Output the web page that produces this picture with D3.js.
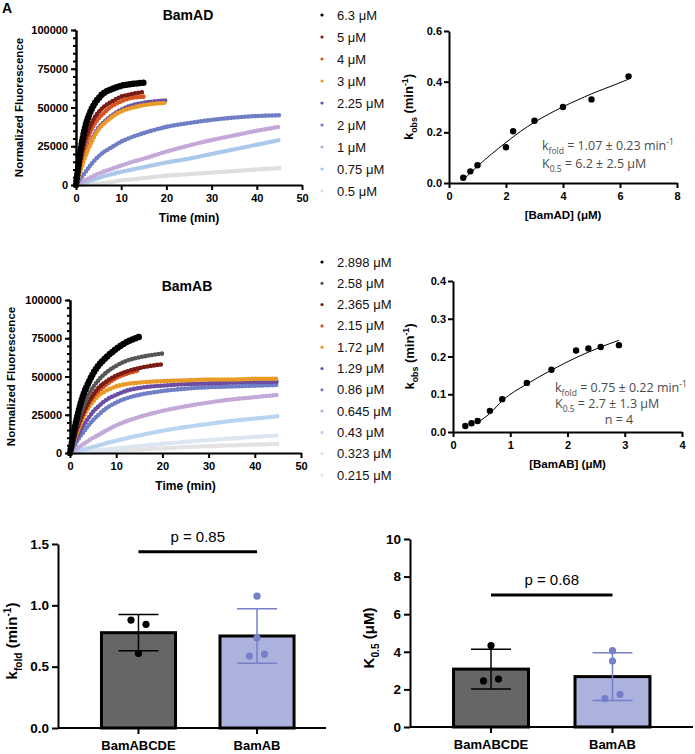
<!DOCTYPE html>
<html>
<head>
<meta charset="utf-8">
<script src="https://cdn.jsdelivr.net/npm/d3@7"></script>
<style>
  body { margin: 0; background: #fff; }
  text { font-family: "Liberation Sans", Arial, Helvetica, sans-serif; }
  .axis path, .axis line { stroke: #000; stroke-width: 2; }
  .axis text { font-weight: bold; fill: #000; }
</style>
</head>
<body>
<script>
// ---- kinetic traces: values read at these times (min) ----
var tGrid = [0, 1, 2, 3, 4, 5, 6, 8, 10, 12, 15, 20, 25, 30, 35, 40, 45];

// BamAD traces (normalized fluorescence)
var adLabels = ["6.3 μM", "5 μM", "4 μM", "3 μM", "2.25 μM", "2 μM", "1 μM", "0.75 μM", "0.5 μM"];
var ad63  = [0, 22000, 37000, 46000, 52000, 56000, 59000, 62000, 64000, 65000, 66000];
var ad5   = [0, 17000, 29000, 37000, 43000, 47000, 50000, 54000, 57000, 58500, 60000];
var ad4   = [0, 14000, 25000, 33000, 39000, 43000, 46000, 51000, 54000, 56000, 57000];
var ad3   = [0, 9000, 18000, 25000, 31000, 36000, 39000, 44000, 47500, 49500, 51500, 53000];
var ad225 = [0, 10000, 19000, 26000, 32000, 37000, 40000, 45000, 48500, 51000, 53000, 54500];
var ad2   = [0, 4000, 8000, 12000, 15500, 18500, 21000, 24500, 28000, 30500, 33500, 37500, 40000, 42000, 43500, 44500, 45000];
var ad1   = [0, 1500, 3000, 4500, 6000, 7300, 8500, 10500, 12500, 14500, 17000, 21500, 25500, 29000, 32000, 35000, 37500];
var ad075 = [0, 700, 1500, 2500, 3500, 4500, 5500, 7000, 8500, 9700, 11500, 14500, 17000, 20000, 23000, 26000, 29000];
var ad05  = [0, 100, 300, 500, 700, 900, 1100, 2000, 3000, 3500, 4500, 6000, 7000, 8000, 9000, 10000, 11000];

// BamAB traces
var abLabels = ["2.898 μM", "2.58 μM", "2.365 μM", "2.15 μM", "1.72 μM", "1.29 μM", "0.86 μM", "0.645 μM", "0.43 μM", "0.323 μM", "0.215 μM"];
var ab2898 = [0, 16000, 29000, 39000, 46000, 52000, 56500, 63000, 68000, 72000, 76000];
var ab258  = [0, 12000, 23000, 31000, 38000, 43000, 47000, 53000, 57000, 60000, 62500, 65000];
var ab2365 = [0, 11000, 20000, 27000, 33000, 38000, 42000, 47000, 50500, 53000, 55500, 58000];
var ab215  = [0, 10000, 19000, 26000, 32000, 36500, 40000, 45000, 49000, 51500, 54000];
var ab172  = [0, 9000, 17000, 24000, 29500, 33500, 37000, 41000, 43500, 45000, 46000, 47000, 47500, 48000, 48000, 48500, 48500];
var ab129  = [0, 7000, 13000, 18500, 23000, 27000, 30000, 35000, 38000, 40500, 42500, 44000, 45000, 45500, 46000, 46500, 46500];
var ab086  = [0, 5000, 10000, 14000, 18000, 21500, 24500, 29500, 33000, 35500, 38000, 40500, 42000, 43000, 43500, 44000, 44500];
var ab0645 = [0, 2000, 4000, 6000, 8000, 10000, 11500, 15000, 18000, 20500, 23500, 27500, 30500, 33000, 35000, 36500, 38000];
var ab043  = [0, 800, 1600, 2400, 3200, 4000, 4800, 6500, 8000, 9500, 11500, 14500, 17000, 19000, 21000, 22500, 24000];
var ab0323 = [0, 300, 600, 900, 1200, 1500, 1800, 2400, 3000, 3600, 4500, 6000, 7300, 8500, 9500, 10500, 11500];
var ab0215 = [0, 150, 300, 450, 600, 750, 900, 1200, 1500, 1800, 2300, 3000, 3800, 4500, 5000, 5500, 6000];

// ---- kobs vs concentration ----
var adConc  = [0.5, 0.75, 1, 2, 2.25, 3, 4, 5, 6.3];
var adKobs  = [0.021, 0.046, 0.070, 0.141, 0.204, 0.246, 0.300, 0.330, 0.421];
var adFitX  = [0.57, 1, 1.5, 2, 2.5, 3, 3.5, 4, 4.5, 5, 5.5, 6, 6.3];
var adFitY  = [0.02, 0.066, 0.115, 0.160, 0.203, 0.240, 0.272, 0.301, 0.327, 0.352, 0.374, 0.396, 0.410];

var abConc  = [0.215, 0.323, 0.43, 0.645, 0.86, 1.29, 1.72, 2.15, 2.365, 2.58, 2.898];
var abKobs  = [0.016, 0.023, 0.029, 0.056, 0.087, 0.130, 0.165, 0.216, 0.221, 0.225, 0.230];
var abFitX  = [0.43, 0.65, 0.86, 1.29, 1.72, 2.15, 2.58, 2.9];
var abFitY  = [0.025, 0.05, 0.083, 0.127, 0.164, 0.197, 0.225, 0.243];

// ---- bar summaries ----
var groups     = ["BamABCDE", "BamAB"];
var kfoldMean  = [0.777, 0.75];
var kfoldSD    = [0.148, 0.222];
var kfoldPtsABCDE = [0.88, 0.845, 0.608];
var kfoldPtsAB    = [1.075, 0.735, 0.586, 0.602];
var k05Mean    = [3.08, 2.68];
var k05SD      = [1.06, 1.27];
var k05PtsABCDE = [2.45, 2.55, 4.33];
var k05PtsAB    = [4.06, 3.51, 1.51, 1.74];

// colours
var adColors = ["#000000", "#7a1c14", "#d6531f", "#ea9a26", "#6b4ea3", "#6f7fc6", "#c4a8d8", "#a9c8ec", "#dedede"];
var abColors = ["#000000", "#565656", "#7a1c14", "#d6531f", "#ea9a26", "#6b4ea3", "#6f7fc6", "#c4a8d8", "#b9d4f0", "#dde5f0", "#e3e3e3"];
var barFill  = ["#666666", "#aab2dd"];
var ptColor  = ["#000000", "#7480c8"];

var svg = d3.select("body").append("svg").attr("width", 695).attr("height", 754);

// text with sub/superscripts
function rich(t, parts, size) {
  var shift = 0;
  parts.forEach(function(p) {
    var target = p[1] === "sub" ? size * 0.32 : p[1] === "sup" ? -size * 0.42 : 0;
    t.append("tspan").attr("dy", target - shift).attr("font-size", p[1] ? size * 0.68 : size).text(p[0]);
    shift = target;
  });
}

function styleAxis(g, size) {
  g.attr("class", "axis").attr("font-size", size).attr("font-family", null);
}

// panel letter
svg.append("text").attr("x", 2).attr("y", 13).attr("font-size", 14).attr("font-weight", "bold").text("A");

// ---------- kinetic panel ----------
function kinetic(cfg) {
  var x = d3.scaleLinear().domain([0, 50]).range(cfg.xr);
  var y = d3.scaleLinear().domain([0, 100000]).range(cfg.yr);
  var g = svg.append("g");
  var line = d3.line().x(function(d) { return x(d[0]); }).y(function(d) { return y(d[1]); }).curve(d3.curveMonotoneX);

  // draw lowest concentration first; thin core plus dotted band for a scatter look
  for (var i = cfg.series.length - 1; i >= 0; i--) {
    var vals = cfg.series[i];
    var pts = vals.map(function(v, j) { return [tGrid[j], v]; });
    g.append("path").datum(pts)
      .attr("fill", "none").attr("stroke", cfg.colors[i])
      .attr("stroke-width", i === 0 ? 4.5 : 2.6)
      .attr("d", line);
    g.append("path").datum(pts)
      .attr("fill", "none").attr("stroke", cfg.colors[i])
      .attr("stroke-width", i === 0 ? 6.5 : 4.6).attr("stroke-linecap", "round")
      .attr("stroke-dasharray", "0 3.4")
      .attr("d", line);
  }

  var ya = g.append("g").attr("transform", "translate(" + cfg.xr[0] + ",0)")
    .call(d3.axisLeft(y).tickValues([0, 25000, 50000, 75000, 100000]).tickFormat(d3.format("d")).tickSize(5).tickSizeOuter(0).tickPadding(3));
  styleAxis(ya, 11);
  var ym = g.append("g").attr("transform", "translate(" + cfg.xr[0] + ",0)")
    .call(d3.axisLeft(y).tickValues(d3.range(0, 100001, 5000)).tickFormat("").tickSize(3).tickSizeOuter(0));
  ym.attr("class", "axis");
  var xa = g.append("g").attr("transform", "translate(0," + cfg.yr[0] + ")")
    .call(d3.axisBottom(x).tickValues([0, 10, 20, 30, 40, 50]).tickSize(5).tickSizeOuter(0).tickPadding(4));
  styleAxis(xa, 11);

  g.append("text").attr("x", (cfg.xr[0] + cfg.xr[1]) / 2).attr("y", cfg.yr[0] + 37)
    .attr("text-anchor", "middle").attr("font-size", 12).attr("font-weight", "bold").text("Time (min)");
  g.append("text").attr("transform", "translate(" + cfg.ylabX + "," + ((cfg.yr[0] + cfg.yr[1]) / 2) + ") rotate(-90)")
    .attr("text-anchor", "middle").attr("font-size", 11.5).attr("font-weight", "bold").text("Normalized Fluorescence");
  g.append("text").attr("x", cfg.titleX).attr("y", cfg.titleY)
    .attr("text-anchor", "middle").attr("font-size", 14).attr("font-weight", "bold").text(cfg.title);

  // legend
  var lg = g.append("g");
  cfg.labels.forEach(function(lab, i) {
    var ly = cfg.legY + i * cfg.legStep;
    lg.append("circle").attr("cx", 322).attr("cy", ly).attr("r", 1.6).attr("fill", cfg.colors[i]);
    lg.append("text").attr("x", 337).attr("y", ly + 4.5).attr("font-size", 13).attr("fill", "#111").text(lab);
  });
}

kinetic({
  xr: [76, 302], yr: [185, 30], ylabX: 23, title: "BamAD", titleX: 188, titleY: 20,
  series: [ad63, ad5, ad4, ad3, ad225, ad2, ad1, ad075, ad05], colors: adColors, labels: adLabels,
  legY: 15, legStep: 22
});
kinetic({
  xr: [70, 301], yr: [453, 300], ylabX: 15, title: "BamAB", titleX: 187, titleY: 291,
  series: [ab2898, ab258, ab2365, ab215, ab172, ab129, ab086, ab0645, ab043, ab0323, ab0215], colors: abColors, labels: abLabels,
  legY: 262, legStep: 21.3
});

// ---------- kobs panels ----------
function fitPanel(cfg) {
  var x = d3.scaleLinear().domain(cfg.xd).range(cfg.xr);
  var y = d3.scaleLinear().domain(cfg.yd).range(cfg.yr);
  var g = svg.append("g");

  var line = d3.line().x(function(d) { return x(d[0]); }).y(function(d) { return y(d[1]); }).curve(d3.curveMonotoneX);
  g.append("path").datum(cfg.fitX.map(function(v, i) { return [v, cfg.fitY[i]]; }))
    .attr("fill", "none").attr("stroke", "#000").attr("stroke-width", 1).attr("d", line);
  g.selectAll("circle").data(cfg.cx).enter().append("circle")
    .attr("cx", function(d) { return x(d); })
    .attr("cy", function(d, i) { return y(cfg.cy[i]); })
    .attr("r", 3.2).attr("fill", "#000");

  var ya = g.append("g").attr("transform", "translate(" + cfg.xr[0] + ",0)")
    .call(d3.axisLeft(y).tickValues(cfg.yticks).tickFormat(d3.format(".1f")).tickSize(5).tickSizeOuter(0).tickPadding(2));
  styleAxis(ya, 11);
  var xa = g.append("g").attr("transform", "translate(0," + cfg.yr[0] + ")")
    .call(d3.axisBottom(x).tickValues(cfg.xticks).tickFormat(d3.format("d")).tickSize(5).tickSizeOuter(0).tickPadding(4));
  styleAxis(xa, 11);

  g.append("text").attr("x", (cfg.xr[0] + cfg.xr[1]) / 2).attr("y", cfg.yr[0] + 36)
    .attr("text-anchor", "middle").attr("font-size", 11.5).attr("font-weight", "bold").text(cfg.xlabel);
  var yl = g.append("text").attr("transform", "translate(" + cfg.ylabX + "," + ((cfg.yr[0] + cfg.yr[1]) / 2) + ") rotate(-90)")
    .attr("text-anchor", "middle").attr("font-weight", "bold");
  rich(yl, [["k"], ["obs", "sub"], [" (min"], ["-1", "sup"], [")"]], 13);

  cfg.notes.forEach(function(n) {
    var t = g.append("text").attr("x", n.x).attr("y", n.y).attr("fill", "#4a4a4a")
      .style("font-family", "'Open Sans', 'Noto Sans', sans-serif")
      .attr("text-anchor", n.anchor || "start");
    rich(t, n.parts, 12.5);
  });
}

fitPanel({
  xd: [0, 8], xr: [449, 677], yd: [0, 0.6], yr: [183, 31],
  xticks: [0, 2, 4, 6, 8], yticks: [0, 0.2, 0.4, 0.6],
  cx: adConc, cy: adKobs, fitX: adFitX, fitY: adFitY,
  xlabel: "[BamAD] (μM)", ylabX: 413,
  notes: [
    { x: 542, y: 150, parts: [["k"], ["fold", "sub"], [" = 1.07 ± 0.23 min"], ["-1", "sup"]] },
    { x: 542, y: 168, parts: [["K"], ["0.5", "sub"], [" = 6.2 ± 2.5 μM"]] }
  ]
});
fitPanel({
  xd: [0, 4], xr: [453, 682], yd: [0, 0.4], yr: [432, 281],
  xticks: [0, 1, 2, 3, 4], yticks: [0, 0.1, 0.2, 0.3, 0.4],
  cx: abConc, cy: abKobs, fitX: abFitX, fitY: abFitY,
  xlabel: "[BamAB] (μM)", ylabX: 414,
  notes: [
    { x: 555, y: 392, parts: [["k"], ["fold", "sub"], [" = 0.75 ± 0.22 min"], ["-1", "sup"]] },
    { x: 555, y: 408, parts: [["K"], ["0.5", "sub"], [" = 2.7 ± 1.3 μM"]] },
    { x: 619, y: 424, anchor: "middle", parts: [["n = 4"]] }
  ]
});

// ---------- bar panels ----------
var jitter = [[-7.5, 7.5, 0], [0, 0, -7.5, 7.5]];

function barPanel(cfg) {
  var x = d3.scaleBand().domain(groups).range(cfg.xr).paddingInner(cfg.pi).paddingOuter(cfg.po);
  var y = d3.scaleLinear().domain(cfg.yd).range(cfg.yr);
  var g = svg.append("g");

  g.selectAll("rect").data(groups).enter().append("rect")
    .attr("x", function(d) { return x(d) + 1.5; })
    .attr("y", function(d, i) { return y(cfg.mean[i]); })
    .attr("width", x.bandwidth() - 3)
    .attr("height", function(d, i) { return y(0) - y(cfg.mean[i]); })
    .attr("fill", function(d, i) { return barFill[i]; })
    .attr("stroke", "#000").attr("stroke-width", 3);

  groups.forEach(function(grp, i) {
    var cx = x(grp) + x.bandwidth() / 2;
    var lo = y(cfg.mean[i] - cfg.sd[i]), hi = y(cfg.mean[i] + cfg.sd[i]);
    var eg = g.append("g").attr("stroke", ptColor[i]).attr("stroke-width", 1.5);
    eg.append("line").attr("x1", cx).attr("x2", cx).attr("y1", lo).attr("y2", hi);
    eg.append("line").attr("x1", cx - 20).attr("x2", cx + 20).attr("y1", lo).attr("y2", lo);
    eg.append("line").attr("x1", cx - 20).attr("x2", cx + 20).attr("y1", hi).attr("y2", hi);
    cfg.pts[i].forEach(function(v, j) {
      g.append("circle").attr("cx", cx + jitter[i][j]).attr("cy", y(v)).attr("r", 3.6).attr("fill", ptColor[i]);
    });
  });

  var ya = g.append("g").attr("transform", "translate(" + cfg.xr[0] + ",0)")
    .call(d3.axisLeft(y).tickValues(cfg.yticks).tickFormat(d3.format(cfg.fmt)).tickSize(6).tickSizeOuter(0).tickPadding(3));
  styleAxis(ya, 13.5);
  var xa = g.append("g").attr("transform", "translate(0," + cfg.yr[0] + ")")
    .call(d3.axisBottom(x).tickSize(6).tickSizeOuter(0).tickPadding(7));
  styleAxis(xa, 13);
  xa.select(".domain").attr("d", "M" + cfg.xr[0] + ",0H" + cfg.axisEnd);

  // significance
  var c0 = x(groups[0]) + x.bandwidth() / 2, c1 = x(groups[1]) + x.bandwidth() / 2;
  g.append("line").attr("x1", c0).attr("x2", c1).attr("y1", y(cfg.sigY)).attr("y2", y(cfg.sigY))
    .attr("stroke", "#000").attr("stroke-width", 3);
  g.append("text").attr("x", (c0 + c1) / 2).attr("y", y(cfg.sigY) - 10).attr("text-anchor", "middle")
    .attr("font-size", 15).text(cfg.pText);

  var yl = g.append("text").attr("transform", "translate(" + cfg.ylabX + "," + ((cfg.yr[0] + cfg.yr[1]) / 2 + 5) + ") rotate(-90)")
    .attr("text-anchor", "middle").attr("font-weight", "bold");
  rich(yl, cfg.ylab, 15);
}

barPanel({
  xr: [58, 337.5], pi: 0.35, po: 0.354, axisEnd: 326,
  yd: [0, 1.5], yr: [728, 544], yticks: [0, 0.5, 1.0, 1.5], fmt: ".1f",
  mean: kfoldMean, sd: kfoldSD, pts: [kfoldPtsABCDE, kfoldPtsAB],
  sigY: 1.437, pText: "p = 0.85", ylabX: 17,
  ylab: [["k"], ["fold", "sub"], [" (min"], ["-1", "sup"], [")"]]
});
barPanel({
  xr: [410, 693.5], pi: 0.358, po: 0.346, axisEnd: 693,
  yd: [0, 10], yr: [727, 539], yticks: [0, 2, 4, 6, 8, 10], fmt: "d",
  mean: k05Mean, sd: k05SD, pts: [k05PtsABCDE, k05PtsAB],
  sigY: 7.02, pText: "p = 0.68", ylabX: 374,
  ylab: [["K"], ["0.5", "sub"], [" (μM)"]]
});
</script>
</body>
</html>
